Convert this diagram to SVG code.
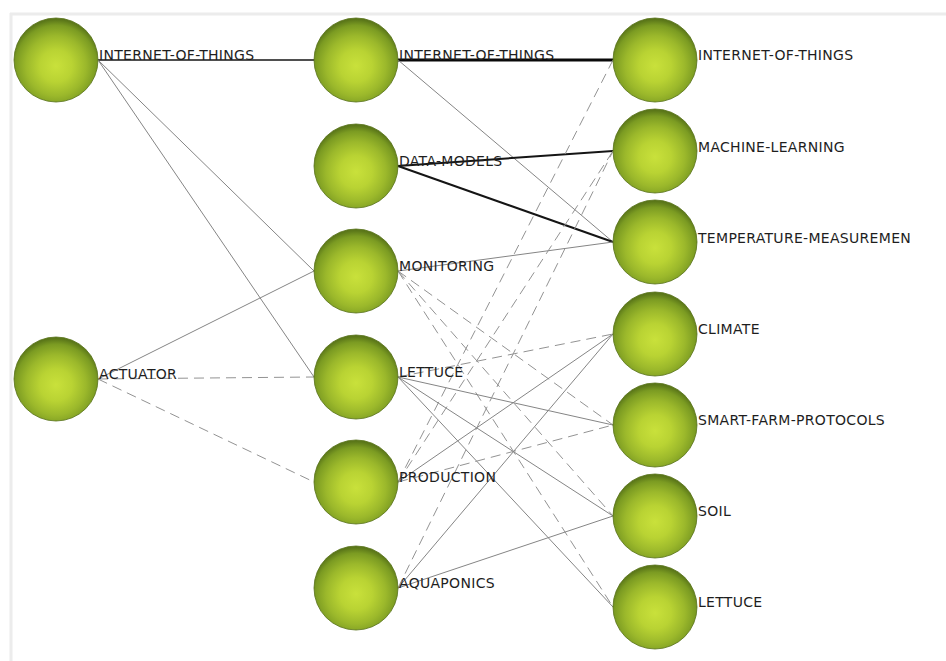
<svg xmlns="http://www.w3.org/2000/svg" width="946" height="661" viewBox="0 0 946 661">
  <defs>
    <radialGradient id="ball" cx="0.5" cy="0.57" r="0.55" fx="0.5" fy="0.57">
      <stop offset="0" stop-color="#c9e13b"/>
      <stop offset="0.35" stop-color="#b9d333"/>
      <stop offset="0.65" stop-color="#9bb82b"/>
      <stop offset="0.88" stop-color="#7b9b22"/>
      <stop offset="1" stop-color="#5b7719"/>
    </radialGradient>
  </defs>
  <style>
    .edge { fill: none; stroke-linecap: butt; }
    .thin { stroke: #858585; stroke-width: 1; }
    .dash { stroke: #939393; stroke-width: 1; stroke-dasharray: 10 6; }
    .strong { stroke: #151515; stroke-width: 2; }
    .light { stroke: #151515; stroke-width: 1.5; }
    .heavy { stroke: #0a0a0a; stroke-width: 3; }
    .ball { fill: url(#ball); stroke: #557016; stroke-width: 0.8; }
    .lbl { font-family: "DejaVu Sans", Verdana, sans-serif; font-size: 14px; letter-spacing: 0.3px; fill: #1e1e1e; }
  </style>

  <!-- canvas -->
  <rect x="0" y="0" width="946" height="661" fill="#ffffff"/>
  <line x1="10" y1="14" x2="946" y2="14" stroke="#ececec" stroke-width="3"/>
  <line x1="11" y1="13" x2="11" y2="661" stroke="#ececec" stroke-width="3"/>

  <!-- connectors -->
  <g id="connectors" class="edge">
    <!-- left column to middle column -->
    <line class="light" x1="98" y1="60" x2="314" y2="60"/>
    <line class="thin" x1="98" y1="60" x2="314" y2="271"/>
    <line class="thin" x1="98" y1="60" x2="314" y2="377"/>
    <line class="thin" x1="98" y1="379" x2="314" y2="271"/>
    <line class="dash" x1="98" y1="379" x2="314" y2="377"/>
    <line class="dash" x1="98" y1="379" x2="314" y2="482"/>

    <!-- middle column to right column -->
    <line class="heavy" x1="398" y1="60" x2="613" y2="60"/>
    <line class="thin" x1="398" y1="60" x2="613" y2="242"/>
    <line class="strong" x1="398" y1="166" x2="613" y2="151"/>
    <line class="strong" x1="398" y1="166" x2="613" y2="242"/>
    <line class="thin" x1="398" y1="271" x2="613" y2="242"/>
    <line class="dash" x1="398" y1="271" x2="613" y2="425"/>
    <line class="dash" x1="398" y1="271" x2="613" y2="516"/>
    <line class="dash" x1="398" y1="271" x2="613" y2="607"/>
    <line class="dash" x1="398" y1="377" x2="613" y2="334"/>
    <line class="thin" x1="398" y1="377" x2="613" y2="425"/>
    <line class="thin" x1="398" y1="377" x2="613" y2="516"/>
    <line class="thin" x1="398" y1="377" x2="613" y2="607"/>
    <line class="dash" x1="398" y1="482" x2="613" y2="60"/>
    <line class="dash" x1="398" y1="482" x2="613" y2="151"/>
    <line class="thin" x1="398" y1="482" x2="613" y2="334"/>
    <line class="dash" x1="398" y1="482" x2="613" y2="425"/>
    <line class="dash" x1="398" y1="588" x2="613" y2="151"/>
    <line class="thin" x1="398" y1="588" x2="613" y2="334"/>
    <line class="thin" x1="398" y1="588" x2="613" y2="516"/>
  </g>

  <!-- left column -->
  <g id="l-internet-of-things">
    <circle class="ball" cx="56" cy="60" r="42"/>
    <text class="lbl" x="99" y="60">INTERNET-OF-THINGS</text>
  </g>
  <g id="l-actuator">
    <circle class="ball" cx="56" cy="379" r="42"/>
    <text class="lbl" x="99" y="379">ACTUATOR</text>
  </g>

  <!-- middle column -->
  <g id="m-internet-of-things">
    <circle class="ball" cx="356" cy="60" r="42"/>
    <text class="lbl" x="399" y="60">INTERNET-OF-THINGS</text>
  </g>
  <g id="m-data-models">
    <circle class="ball" cx="356" cy="166" r="42"/>
    <text class="lbl" x="399" y="166">DATA-MODELS</text>
  </g>
  <g id="m-monitoring">
    <circle class="ball" cx="356" cy="271" r="42"/>
    <text class="lbl" x="399" y="271">MONITORING</text>
  </g>
  <g id="m-lettuce">
    <circle class="ball" cx="356" cy="377" r="42"/>
    <text class="lbl" x="399" y="377">LETTUCE</text>
  </g>
  <g id="m-production">
    <circle class="ball" cx="356" cy="482" r="42"/>
    <text class="lbl" x="399" y="482">PRODUCTION</text>
  </g>
  <g id="m-aquaponics">
    <circle class="ball" cx="356" cy="588" r="42"/>
    <text class="lbl" x="399" y="588">AQUAPONICS</text>
  </g>

  <!-- right column -->
  <g id="r-internet-of-things">
    <circle class="ball" cx="655" cy="60" r="42"/>
    <text class="lbl" x="698" y="60">INTERNET-OF-THINGS</text>
  </g>
  <g id="r-machine-learning">
    <circle class="ball" cx="655" cy="151" r="42"/>
    <text class="lbl" x="698" y="152">MACHINE-LEARNING</text>
  </g>
  <g id="r-temperature-measurement">
    <circle class="ball" cx="655" cy="242" r="42"/>
    <text class="lbl" x="698" y="243">TEMPERATURE-MEASUREMEN</text>
  </g>
  <g id="r-climate">
    <circle class="ball" cx="655" cy="334" r="42"/>
    <text class="lbl" x="698" y="334">CLIMATE</text>
  </g>
  <g id="r-smart-farm-protocols">
    <circle class="ball" cx="655" cy="425" r="42"/>
    <text class="lbl" x="698" y="425">SMART-FARM-PROTOCOLS</text>
  </g>
  <g id="r-soil">
    <circle class="ball" cx="655" cy="516" r="42"/>
    <text class="lbl" x="698" y="516">SOIL</text>
  </g>
  <g id="r-lettuce">
    <circle class="ball" cx="655" cy="607" r="42"/>
    <text class="lbl" x="698" y="607">LETTUCE</text>
  </g>
</svg>
